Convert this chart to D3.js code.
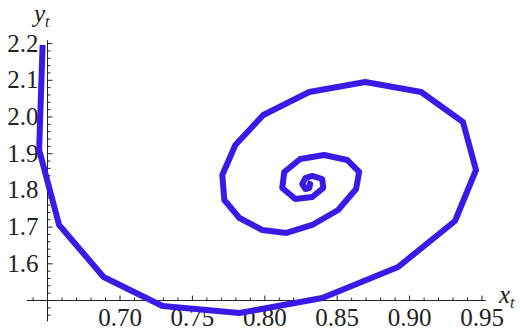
<!DOCTYPE html>
<html>
<head>
<meta charset="utf-8">
<script src="https://cdn.jsdelivr.net/npm/d3@7/dist/d3.min.js"></script>
<style>
  html, body { margin: 0; padding: 0; background: #fff; }
  svg { display: block; }
</style>
</head>
<body>
<svg id="chart" width="520" height="331"></svg>
<script>
// Trajectory of the iterated map (x_t, y_t), spiralling into its fixed point
const xt = [0.6469, 0.6445, 0.6583, 0.6890, 0.7297, 0.7828, 0.8400, 0.8924, 0.9317, 0.9462,
            0.9372, 0.9083, 0.8697, 0.8310, 0.7993, 0.7800, 0.7710, 0.7724, 0.7828, 0.7986,
            0.8152, 0.8331, 0.8510, 0.8634, 0.8655, 0.8572, 0.8414, 0.8248, 0.8138, 0.8124,
            0.8214, 0.8331, 0.8407, 0.8400, 0.8331, 0.8283, 0.8262, 0.8283, 0.8310, 0.8317, 0.8296];
const yt = [2.1948, 1.9087, 1.7044, 1.5627, 1.4837, 1.4646, 1.5054, 1.5899, 1.7153, 1.8542,
            1.9850, 2.0668, 2.0940, 2.0668, 2.0041, 1.9223, 1.8406, 1.7725, 1.7234, 1.6907,
            1.6826, 1.7044, 1.7452, 1.8025, 1.8488, 1.8815, 1.8951, 1.8842, 1.8488, 1.8052,
            1.7752, 1.7807, 1.8052, 1.8297, 1.8379, 1.8324, 1.8161, 1.8024, 1.8052, 1.8161, 1.8188];

// Axis ticks
const xMajor = [0.70, 0.75, 0.80, 0.85, 0.90, 0.95];
const xLabels = ["0.70", "0.75", "0.80", "0.85", "0.90", "0.95"];
const xMinor = [0.64, 0.66, 0.67, 0.68, 0.69, 0.71, 0.72, 0.73, 0.74, 0.76, 0.77, 0.78, 0.79,
                0.81, 0.82, 0.83, 0.84, 0.86, 0.87, 0.88, 0.89, 0.91, 0.92, 0.93, 0.94];
const yMajor = [1.6, 1.7, 1.8, 1.9, 2.0, 2.1, 2.2];
const yLabels = ["1.6", "1.7", "1.8", "1.9", "2.0", "2.1", "2.2"];
const yMinor = [1.46, 1.48, 1.52, 1.54, 1.56, 1.58, 1.62, 1.64, 1.66, 1.68, 1.72, 1.74, 1.76, 1.78,
                1.82, 1.84, 1.86, 1.88, 1.92, 1.94, 1.96, 1.98, 2.02, 2.04, 2.06, 2.08,
                2.12, 2.14, 2.16, 2.18];

// Plot range and axes origin
const xRange = [0.636, 0.953];
const yRange = [1.442, 2.208];
const origin = { x: 0.65, y: 1.5 };

const serif = "'Liberation Serif', 'Times New Roman', Times, Tinos, 'Nimbus Roman', 'Noto Serif', 'DejaVu Serif', FreeSerif, serif";
const svg = d3.select("#chart");

const x = d3.scaleLinear().domain([0.70, 0.95]).range([119.5, 481.5]);
const y = d3.scaleLinear().domain([1.6, 2.2]).range([263.3, 43.1]);

const axisColor = "#222";

// Horizontal axis
const gx = svg.append("g").attr("transform", `translate(0,${Math.round(y(origin.y)) + 0.5})`);
gx.append("line")
  .attr("x1", x(xRange[0])).attr("x2", x(xRange[1]))
  .attr("stroke", axisColor).attr("stroke-width", 1);
gx.append("g")
  .call(d3.axisBottom(x).tickValues(xMinor).tickSize(-3).tickFormat(""))
  .call(g => g.select(".domain").remove());
gx.append("g")
  .call(d3.axisBottom(x).tickValues(xMajor).tickSize(-5).tickPadding(8)
        .tickFormat((d, i) => xLabels[i]))
  .call(g => g.select(".domain").remove());

// Vertical axis
const gy = svg.append("g").attr("transform", `translate(${Math.round(x(origin.x)) + 0.5},0)`);
gy.append("line")
  .attr("y1", y(yRange[0])).attr("y2", y(yRange[1]))
  .attr("stroke", axisColor).attr("stroke-width", 1);
gy.append("g")
  .call(d3.axisLeft(y).tickValues(yMinor).tickSize(-3).tickFormat(""))
  .call(g => g.select(".domain").remove());
gy.append("g")
  .call(d3.axisLeft(y).tickValues(yMajor).tickSize(-5).tickPadding(9)
        .tickFormat((d, i) => yLabels[i]))
  .call(g => g.select(".domain").remove());

svg.selectAll(".tick line").attr("stroke", axisColor);
svg.selectAll("g").attr("font-family", null).attr("font-size", null);
svg.selectAll(".tick text")
  .attr("fill", "#222")
  .style("font-family", serif)
  .style("font-size", "25px");

// Axis titles
const title = (tx, ty, base) => {
  const t = svg.append("text")
    .attr("x", tx).attr("y", ty)
    .style("font-family", serif)
    .style("font-style", "italic").style("font-size", "25px").attr("fill", "#222");
  t.append("tspan").text(base);
  t.append("tspan").style("font-size", "16px").attr("dy", 5).text("t");
};
title(34, 22, "y");
title(499, 303, "x");

// Trajectory
const pts = xt.map((v, i) => [v, yt[i]]);
svg.append("path")
  .datum(pts)
  .attr("fill", "none")
  .attr("stroke", "#3a1ae6")
  .attr("stroke-width", 6)
  .attr("stroke-linejoin", "round")
  .attr("stroke-linecap", "butt")
  .attr("d", d3.line().x(d => x(d[0])).y(d => y(d[1])));
</script>
</body>
</html>
